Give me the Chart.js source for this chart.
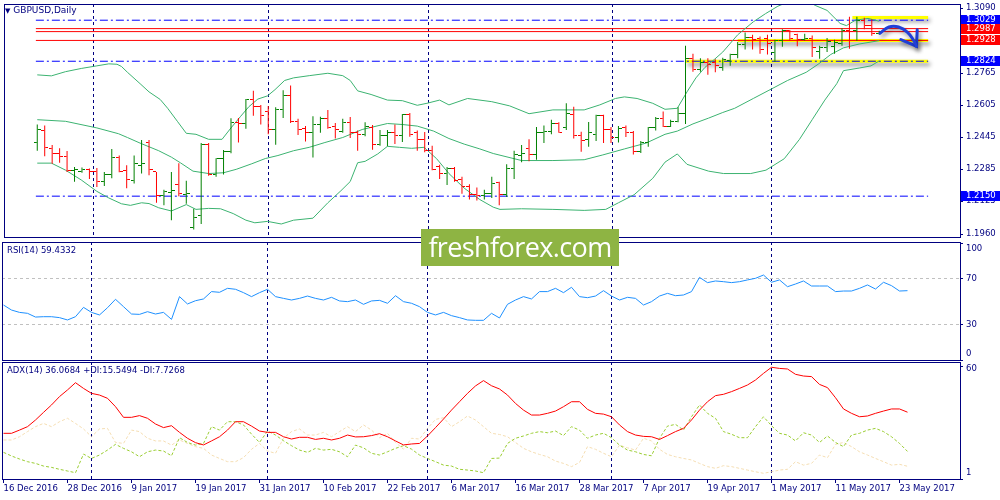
<!DOCTYPE html>
<html>
<head>
<meta charset="utf-8">
<script src="https://cdn.jsdelivr.net/npm/chart.js@4.4.1/dist/chart.umd.min.js"></script>
<style>
  html, body { margin: 0; padding: 0; background: #fff; }
  #wrap { position: relative; width: 1000px; height: 500px; overflow: hidden; }
  .pane { position: absolute; left: 0; width: 1000px; }
  .cap { position: absolute; font-family: "DejaVu Sans", sans-serif; font-size: 8.5px; line-height: 11px; color: #000080; white-space: nowrap; }
  #logo { position: absolute; left: 421px; top: 229px; width: 198px; height: 37px; background: #8eb443; color: #fff;
          font: 27px "Open Sans", sans-serif; letter-spacing: -0.6px; line-height: 36px; text-align: center; }
</style>
</head>
<body>
<div id="wrap">
  <div class="pane" style="top:0;height:241px"><canvas id="cMain"></canvas></div>
  <div class="pane" style="top:241px;height:120px"><canvas id="cRsi"></canvas></div>
  <div class="pane" style="top:361px;height:139px"><canvas id="cAdx"></canvas></div>
  <div class="cap" style="left:5px;top:5px;font-size:9px"><span style="font-size:7px">&#9660;</span> GBPUSD,Daily</div>
  <div class="cap" style="left:7px;top:245px">RSI(14) 59.4332</div>
  <div class="cap" style="left:7px;top:365px">ADX(14) 36.0684 +DI:15.5494 -DI:7.7268</div>
  <div id="logo">freshforex.com</div>
</div>
<script>
// daily bars, one per weekday from 16 Dec 2016
const opens = [1.2418,1.2480,1.2390,1.2364,1.2350,1.2276,1.2271,1.2283,1.2271,1.2222,1.2260,1.2345,1.2276,1.2229,1.2304,1.2418,1.2271,1.2154,1.2170,1.2209,
  1.2157,1.1994,1.2051,1.2410,1.2260,1.2340,1.2372,1.2516,1.2511,1.2635,1.2597,1.2573,1.2483,1.2581,1.2654,1.2524,1.2487,1.2467,1.2508,1.2540,
  1.2500,1.2472,1.2519,1.2470,1.2459,1.2491,1.2408,1.2451,1.2467,1.2451,1.2557,1.2467,1.2434,1.2377,1.2296,1.2263,1.2288,1.2231,1.2198,1.2157,
  1.2154,1.2161,1.2219,1.2157,1.2288,1.2353,1.2389,1.2356,1.2470,1.2475,1.2513,1.2491,1.2557,1.2451,1.2434,1.2459,1.2552,1.2483,1.2443,1.2491,
  1.2470,1.2372,1.2418,1.2491,1.2537,1.2500,1.2524,1.2565,1.2837,1.2785,1.2817,1.2817,1.2793,1.2826,1.2858,1.2910,1.2943,1.2936,1.2940,1.2866,
  1.2927,1.2976,1.2956,1.2932,1.2940,1.2874,1.2891,1.2899,1.2915,1.2980,1.2980,1.3029,1.3005,1.2961];
const highs = [1.2508,1.2503,1.2405,1.2389,1.2376,1.2296,1.2293,1.2288,1.2291,1.2271,1.2386,1.2353,1.2304,1.2353,1.2430,1.2430,1.2271,1.2182,1.2271,1.2315,
  1.2227,1.2087,1.2415,1.2415,1.2340,1.2381,1.2539,1.2540,1.2635,1.2676,1.2606,1.2601,1.2594,1.2679,1.2703,1.2537,1.2500,1.2549,1.2547,1.2581,
  1.2516,1.2537,1.2545,1.2478,1.2519,1.2506,1.2480,1.2480,1.2508,1.2560,1.2565,1.2478,1.2470,1.2402,1.2307,1.2296,1.2296,1.2247,1.2209,1.2193,
  1.2182,1.2247,1.2222,1.2309,1.2377,1.2405,1.2434,1.2495,1.2503,1.2532,1.2519,1.2614,1.2597,1.2472,1.2521,1.2557,1.2557,1.2495,1.2500,1.2503,
  1.2475,1.2426,1.2495,1.2545,1.2573,1.2532,1.2594,1.2902,1.2861,1.2839,1.2839,1.2834,1.2842,1.2861,1.2920,1.2967,1.2956,1.2948,1.2956,1.2932,
  1.2984,1.2980,1.2961,1.2961,1.2953,1.2902,1.2940,1.2932,1.2989,1.3046,1.3046,1.3041,1.3034,1.2976];
const lows = [1.2377,1.2350,1.2312,1.2317,1.2271,1.2222,1.2267,1.2236,1.2196,1.2201,1.2239,1.2270,1.2190,1.2213,1.2263,1.2255,1.2117,1.2105,1.2030,1.2149,
  1.2112,1.1983,1.2011,1.2252,1.2247,1.2258,1.2365,1.2418,1.2487,1.2552,1.2508,1.2459,1.2407,1.2540,1.2516,1.2456,1.2423,1.2343,1.2467,1.2487,
  1.2438,1.2467,1.2441,1.2377,1.2449,1.2382,1.2402,1.2399,1.2410,1.2421,1.2447,1.2377,1.2369,1.2280,1.2236,1.2206,1.2222,1.2162,1.2133,1.2128,
  1.2133,1.2141,1.2105,1.2146,1.2236,1.2320,1.2325,1.2332,1.2415,1.2459,1.2467,1.2480,1.2438,1.2372,1.2397,1.2426,1.2415,1.2415,1.2418,1.2446,
  1.2358,1.2366,1.2397,1.2478,1.2495,1.2495,1.2519,1.2511,1.2772,1.2772,1.2757,1.2769,1.2777,1.2801,1.2839,1.2883,1.2883,1.2861,1.2858,1.2821,
  1.2896,1.2927,1.2899,1.2928,1.2845,1.2837,1.2870,1.2861,1.2902,1.2886,1.2927,1.2984,1.2951,1.2956];
const closes = [1.2483,1.2394,1.2364,1.2350,1.2276,1.2284,1.2284,1.2275,1.2222,1.2260,1.2345,1.2271,1.2231,1.2315,1.2315,1.2283,1.2154,1.2174,1.2177,1.2161,
  1.2165,1.2043,1.2410,1.2260,1.2340,1.2372,1.2516,1.2511,1.2635,1.2597,1.2553,1.2483,1.2581,1.2654,1.2524,1.2483,1.2467,1.2508,1.2540,1.2495,
  1.2483,1.2519,1.2470,1.2459,1.2496,1.2410,1.2451,1.2467,1.2451,1.2557,1.2459,1.2434,1.2377,1.2283,1.2263,1.2288,1.2226,1.2198,1.2157,1.2154,
  1.2161,1.2214,1.2157,1.2288,1.2356,1.2361,1.2356,1.2470,1.2475,1.2513,1.2470,1.2565,1.2451,1.2426,1.2467,1.2552,1.2483,1.2443,1.2487,1.2470,
  1.2372,1.2418,1.2491,1.2537,1.2500,1.2524,1.2565,1.2837,1.2785,1.2817,1.2809,1.2801,1.2834,1.2858,1.2910,1.2943,1.2932,1.2883,1.2915,1.2927,
  1.2976,1.2936,1.2932,1.2940,1.2891,1.2891,1.2923,1.2920,1.2976,1.2972,1.3029,1.3002,1.2964,1.2972];

// bollinger bands: [bar index, price]
const bbUpper = [[0,1.2756],[1.9,1.2751],[3.8,1.2772],[5.9,1.2788],[8,1.2801],[9.6,1.2811],[10.7,1.2809],[11.3,1.2798],[12.1,1.2769],[13.8,1.2712],
  [15,1.2671],[16.5,1.2633],[17.5,1.2589],[18.8,1.2524],[20,1.2464],[21.3,1.2459],[23,1.2434],[24.8,1.2434],[26,1.2491],[27.3,1.2549],[28.4,1.2597],
  [29.6,1.2635],[30.9,1.2651],[31.9,1.2682],[33.2,1.2728],[34.4,1.2741],[36.5,1.2752],[39,1.2764],[41,1.2752],[42,1.2728],[43,1.2676],[44.8,1.2658],
  [47,1.2630],[49,1.2627],[51,1.2604],[52.3,1.2614],[54,1.2630],[55.25,1.2606],[57.75,1.2638],[61,1.2622],[63.4,1.2601],[66,1.2562],[69.2,1.2581],
  [73.4,1.2581],[75.5,1.2606],[77.6,1.2638],[78.8,1.2646],[80.5,1.2638],[82.6,1.2614],[84.25,1.2584],[85.9,1.2589],[87.2,1.2671],[88.4,1.2741],
  [89.6,1.2793],[90.9,1.2834],[92,1.2870],[94,1.2956],[96.1,1.3021],[97.75,1.3062],[99.4,1.3099],[101.5,1.3132],[103,1.3135],[104.4,1.3103],
  [106,1.3078],[107.75,1.3013],[108.6,1.3002],[109.8,1.3029],[111.5,1.3038],[113,1.3024]];
const bbMiddle = [[0,1.2532],[3.8,1.2524],[8,1.2491],[10.9,1.2462],[12.1,1.2443],[13.8,1.2415],[16.3,1.2377],[18,1.2345],[19.2,1.2317],[20.9,1.2275],
  [23,1.2263],[25,1.2267],[26.7,1.2284],[28.8,1.2312],[30.6,1.2338],[32.3,1.2353],[34.4,1.2377],[36.5,1.2394],[38.6,1.2418],[41,1.2443],[43.6,1.2483],
  [47,1.2513],[49,1.2508],[51,1.2500],[53.2,1.2475],[55.25,1.2438],[57.3,1.2410],[59.4,1.2386],[61.2,1.2363],[65,1.2328],[69.2,1.2328],[73.4,1.2332],
  [75.9,1.2356],[78.8,1.2386],[81.7,1.2415],[84.25,1.2459],[85.9,1.2475],[88,1.2511],[90.1,1.2540],[92,1.2568],[93.6,1.2589],[96.1,1.2638],
  [98.2,1.2679],[100.7,1.2728],[103.2,1.2769],[104.8,1.2809],[106.5,1.2858],[108.2,1.2891],[110.3,1.2910],[113,1.2927]];
const bbLower = [[0,1.2315],[1.9,1.2315],[3.8,1.2280],[5.9,1.2231],[8,1.2174],[9.6,1.2141],[11.3,1.2112],[12.5,1.2104],[14,1.2117],[15,1.2113],
  [16.3,1.2092],[18,1.2076],[20,1.2108],[21.3,1.2084],[23,1.2089],[24.6,1.2087],[26.3,1.2063],[28,1.2030],[29.2,1.2017],[30.9,1.2024],[32.75,1.2011],
  [34.4,1.2030],[37,1.2040],[39,1.2117],[40.75,1.2177],[42,1.2223],[43,1.2317],[44,1.2324],[45.7,1.2361],[47,1.2399],[48.6,1.2394],[50.25,1.2389],
  [51.9,1.2394],[53.6,1.2337],[55.25,1.2263],[57.3,1.2190],[59.4,1.2133],[61.2,1.2095],[62.1,1.2084],[65,1.2087],[69.2,1.2084],[73.4,1.2079],
  [76.3,1.2084],[78,1.2117],[80.1,1.2157],[82.6,1.2239],[84.25,1.2320],[85.9,1.2361],[87.2,1.2309],[90.1,1.2275],[92.1,1.2263],[95.75,1.2263],
  [97.8,1.2280],[100.25,1.2337],[102.3,1.2434],[104,1.2532],[105.7,1.2630],[107.3,1.2712],[108.2,1.2777],[110.3,1.2790],[111.9,1.2801],[113,1.2826]];

const rsi = [47.1,42.8,40.8,40.0,36.8,37.1,37.1,36.3,34.3,37.1,45.1,40.8,38.6,44.8,52.0,45.7,39.4,39.1,41.4,39.4,
  40.8,34.8,54.3,48.0,50.8,52.3,58.6,58.0,61.4,60.6,57.7,54.3,57.7,60.6,54.3,52.8,51.4,52.8,54.8,52.8,
  51.4,53.7,50.6,50.0,51.4,47.7,50.6,51.1,48.6,55.1,50.0,48.6,45.7,40.8,38.6,40.8,38.0,36.3,34.3,34.0,
  34.0,40.0,36.0,47.7,51.4,54.3,52.3,58.6,58.6,61.4,57.7,62.3,54.3,53.4,54.8,59.4,54.8,51.4,53.7,52.8,
  47.1,50.0,54.8,57.1,55.1,55.7,58.6,70.8,66.3,67.7,67.1,66.3,67.1,68.6,70.0,72.8,66.6,68.6,62.8,65.1,
  67.7,63.4,63.4,63.4,58.6,59.1,59.1,61.4,64.3,60.8,66.6,63.7,59.1,59.4];
const adx = [25.0,25.0,26.7,28.5,32.0,36.0,39.9,44.3,47.8,51.6,48.6,46.0,45.1,43.4,39.0,33.4,33.4,34.3,32.9,29.9,
  28.0,29.0,25.5,22.4,20.1,18.9,21.0,23.2,26.7,31.1,31.1,28.8,26.2,25.5,25.5,23.2,22.0,22.9,22.9,21.8,
  22.4,21.5,22.4,24.1,23.1,23.2,23.8,24.8,23.2,21.0,18.9,19.4,19.7,23.6,28.0,32.5,37.2,41.6,46.0,49.9,
  52.7,50.0,48.3,45.1,40.7,37.2,34.6,34.6,35.5,36.7,39.0,41.6,41.6,37.6,35.5,35.1,33.7,29.4,25.9,24.1,
  23.4,23.2,21.8,23.8,25.9,27.6,32.0,37.2,41.6,44.8,45.5,46.9,48.6,50.4,53.0,56.5,59.7,59.1,58.8,56.0,
  55.1,54.8,50.7,49.0,43.7,37.8,35.5,33.7,34.1,35.5,36.7,37.8,37.8,36.1];
const plusDI = [15.0,13.1,11.5,10.1,9.2,7.8,7.1,6.1,5.2,4.3,14.1,11.8,13.6,16.2,19.2,17.1,15.3,12.7,15.3,16.2,
  15.7,13.2,22.7,20.2,18.8,19.7,28.5,26.7,31.1,31.1,29.4,24.6,20.2,26.2,24.1,21.1,18.5,16.2,15.0,17.1,
  16.2,16.6,15.3,12.7,18.8,17.4,14.5,13.6,15.3,17.1,18.5,16.7,13.6,11.8,10.1,8.3,7.8,6.1,5.7,5.2,
  4.3,11.8,12.0,19.7,22.4,23.6,25.0,25.9,25.3,26.2,23.8,28.5,26.7,22.4,24.1,25.0,22.7,18.8,16.2,15.3,
  13.9,13.2,22.4,28.8,29.7,26.7,33.7,39.9,35.5,32.9,25.9,24.5,22.7,22.7,28.5,33.7,29.0,25.0,24.1,21.0,
  25.3,24.1,20.2,23.6,20.2,18.0,24.1,25.0,26.7,27.6,25.9,23.2,19.7,15.5];
const minusDI = [21.5,21.5,23.2,25.9,28.5,30.2,28.5,31.1,32.9,30.2,27.3,23.2,27.3,27.6,20.2,19.7,26.7,25.9,22.4,21.0,
  21.0,18.8,21.5,19.7,18.0,17.1,13.6,11.8,10.1,10.1,12.2,16.6,19.7,15.7,14.5,22.4,25.9,27.3,24.1,24.1,
  25.5,23.2,25.9,28.5,25.9,29.4,26.7,22.7,25.0,20.2,16.7,22.4,22.0,27.6,32.3,33.2,28.5,31.1,34.1,32.0,
  28.5,25.0,24.4,23.2,20.2,17.1,15.3,13.9,12.7,10.4,9.2,7.5,9.7,18.0,16.6,14.5,12.7,18.8,17.4,16.2,
  22.4,21.0,16.6,13.9,12.7,11.8,11.0,9.2,7.5,6.6,8.0,7.5,6.6,5.7,4.8,4.0,4.8,5.7,6.1,10.1,
  8.3,9.2,13.6,12.2,19.2,20.2,18.0,15.3,13.6,11.8,10.1,8.3,8.7,7.7];

const dateTicks = ['16 Dec 2016','28 Dec 2016','9 Jan 2017','19 Jan 2017','31 Jan 2017','10 Feb 2017','22 Feb 2017','6 Mar 2017',
  '16 Mar 2017','28 Mar 2017','7 Apr 2017','19 Apr 2017','1 May 2017','11 May 2017','23 May 2017'];
const dateTickStep = 8;
const monthStarts = [11, 33, 53, 76, 96];
const priceTicks = [1.3090, 1.2765, 1.2605, 1.2445, 1.2285, 1.2125, 1.1960];
const rsiTicks = [100, 70, 30, 0];
const rsiLevels = [30, 70];
const adxTicks = [60, 1];

// drawn objects on the price pane
const blueLevels = [1.3029, 1.2824, 1.2150];
const redLevels = [1.2987, 1.2928];
const yellowLevels = [1.3042, 1.2928, 1.2824];
const yellowFrom = [109.4, 94, 87];
const arrowPath = [[113.1,1.2964],[114.3,1.2995],[115.6,1.2995],[116.8,1.2968],[117.6,1.2929],[118.0,1.2899]];
const arrowHead = [[118.1,1.2981],[118.0,1.2899],[115.9,1.2932]];

const NAVY = '#000080', GREEN = '#008000', RED = '#ff0000', BLUE = '#0000ff', BB = '#3cb371';
const FONT = {family: 'DejaVu Sans', size: 8.5};
const X_MIN = -0.1875, X_MAX = 119.5625;

const pts = arr => arr.map((v, i) => ({x: i, y: v}));
const pairs = arr => arr.map(p => ({x: p[0], y: p[1]}));
const isUp = i => closes[i] >= opens[i];

function tickImage(color, left) {
  const c = document.createElement('canvas');
  c.width = 7; c.height = 1;
  const g = c.getContext('2d');
  g.fillStyle = color;
  g.fillRect(left ? 0 : 4, 0, 3, 1);
  return c;
}
const IMG = {
  openUp: tickImage(GREEN, true), openDn: tickImage(RED, true),
  closeUp: tickImage(GREEN, false), closeDn: tickImage(RED, false)
};

const framePlugin = {
  id: 'frame',
  afterDraw(chart) {
    const a = chart.chartArea, ctx = chart.ctx;
    ctx.save();
    ctx.strokeStyle = NAVY;
    ctx.lineWidth = 1;
    ctx.strokeRect(a.left + 0.5, a.top + 0.5, a.right - a.left, a.bottom - a.top);
    ctx.restore();
  }
};

const shadowPlugin = {
  id: 'shadow',
  beforeDatasetDraw(chart, args) {
    if (!chart.data.datasets[args.index].shadow) return;
    const ctx = chart.ctx;
    ctx.save();
    ctx.shadowColor = 'rgba(0,0,0,0.45)';
    ctx.shadowBlur = 4;
    ctx.shadowOffsetX = 2;
    ctx.shadowOffsetY = 3;
  },
  afterDatasetDraw(chart, args) {
    if (chart.data.datasets[args.index].shadow) chart.ctx.restore();
  }
};

const tagPlugin = {
  id: 'tags',
  afterDraw(chart) {
    const s = chart.scales.y, ctx = chart.ctx;
    const tags = blueLevels.map(v => [v, BLUE]).concat(redLevels.map(v => [v, RED]));
    ctx.save();
    ctx.font = '8.5px "DejaVu Sans"';
    ctx.textBaseline = 'middle';
    tags.forEach(([v, col]) => {
      const y = Math.round(s.getPixelForValue(v));
      ctx.fillStyle = col;
      ctx.fillRect(s.left + 1, y - 5, 39, 10);
      ctx.fillStyle = '#fff';
      ctx.fillText(v.toFixed(4), s.left + 6, y);
    });
    ctx.restore();
  }
};

// indicator panes: min/max labels are kept inside the pane like the terminal does
function sideLabels(values) {
  return {
    id: 'sideLabels',
    afterDraw(chart) {
      const s = chart.scales.y, a = chart.chartArea, ctx = chart.ctx;
      ctx.save();
      ctx.font = '8.5px "DejaVu Sans"';
      ctx.fillStyle = NAVY;
      ctx.textBaseline = 'middle';
      values.forEach(v => {
        const y = Math.min(Math.max(s.getPixelForValue(v), a.top + 6.5), a.bottom - 6.5);
        ctx.fillText(String(v), s.left + 6, y);
      });
      ctx.restore();
    }
  };
}

function xScales(showLabels) {
  return {
    x: {
      type: 'linear', min: X_MIN, max: X_MAX, display: showLabels,
      afterBuildTicks: s => { s.ticks = dateTicks.map((t, k) => ({value: k * dateTickStep})); },
      afterFit: s => { if (showLabels) s.height = 21; s.paddingLeft = 0; s.paddingRight = 0; },
      ticks: { autoSkip: false, maxRotation: 0, align: 'start', color: NAVY, font: FONT, padding: 1,
               callback: (v, k) => dateTicks[k] },
      grid: { drawOnChartArea: false, drawTicks: true, tickLength: 4, tickColor: NAVY },
      border: { display: false }
    },
    xMonths: {
      type: 'linear', position: 'top', min: X_MIN, max: X_MAX,
      afterBuildTicks: s => { s.ticks = monthStarts.map(v => ({value: v})); },
      afterFit: s => { s.height = 0; s.paddingLeft = 0; s.paddingRight = 0; },
      ticks: { display: false },
      grid: { color: NAVY, drawTicks: false },
      border: { display: false, dash: [3, 3] }
    }
  };
}

function yScale(min, max, extra) {
  return Object.assign({
    position: 'right', min: min, max: max,
    afterFit: s => { s.width = 40; s.paddingTop = 0; s.paddingBottom = 0; },
    grid: { drawOnChartArea: false, tickLength: 3, tickColor: NAVY },
    border: { display: false }
  }, extra);
}

const common = {
  responsive: true, maintainAspectRatio: false, animation: false, events: [],
  plugins: { legend: { display: false }, tooltip: { enabled: false } }
};

const line = (data, color, extra) => Object.assign({
  type: 'line', data: data, borderColor: color, borderWidth: 1, pointRadius: 0, tension: 0, fill: false
}, extra);

const hLine = (v, from) => [{x: from, y: v}, {x: X_MAX, y: v}];

// price pane
const mainSets = [
  line(pairs(arrowPath), '#1f3fd8', { borderWidth: 3, tension: 0.4, borderCapStyle: 'round', shadow: true, order: 1 }),
  line(pairs(arrowHead), '#1f3fd8', { borderWidth: 3, borderCapStyle: 'round', shadow: true, order: 1 }),
  { type: 'line', showLine: false, data: pts(opens), pointRadius: 3, pointHoverRadius: 3, order: 10,
    pointStyle: c => isUp(c.dataIndex) ? IMG.openUp : IMG.openDn },
  { type: 'line', showLine: false, data: pts(closes), pointRadius: 3, pointHoverRadius: 3, order: 10,
    pointStyle: c => isUp(c.dataIndex) ? IMG.closeUp : IMG.closeDn },
  { type: 'bar', data: lows.map((l, i) => ({x: i, y: [l, highs[i]]})), barThickness: 1, inflateAmount: 0,
    borderWidth: 0, order: 20, backgroundColor: c => isUp(c.dataIndex) ? GREEN : RED },
  line(pairs(bbUpper), BB, { order: 30 }),
  line(pairs(bbMiddle), BB, { order: 30 }),
  line(pairs(bbLower), BB, { order: 30 }),
  line(hLine(closes[closes.length - 1], X_MIN), RED, { order: 40 })
];
redLevels.forEach(v => mainSets.push(line(hLine(v, X_MIN), RED, { order: 40 })));
blueLevels.forEach(v => mainSets.push(line(hLine(v, X_MIN), BLUE, { borderDash: [8, 3, 2, 3], order: 44 })));
yellowLevels.forEach((v, k) => mainSets.push(line(hLine(v, yellowFrom[k]), '#ffff00', { borderWidth: 3, shadow: true, order: 45 })));

new Chart(document.getElementById('cMain'), {
  type: 'line',
  data: { datasets: mainSets },
  options: Object.assign({}, common, {
    layout: { padding: { left: 2, top: 2, bottom: 1, right: 0 } },
    scales: Object.assign(xScales(false), {
      y: yScale(1.1946, 1.3110, {
        afterBuildTicks: s => { s.ticks = priceTicks.map(v => ({value: v})); },
        ticks: { autoSkip: false, color: NAVY, font: FONT, padding: 3, callback: v => v.toFixed(4) }
      })
    })
  }),
  plugins: [shadowPlugin, framePlugin, tagPlugin]
});

// RSI pane
new Chart(document.getElementById('cRsi'), {
  type: 'line',
  data: { datasets: [line(pts(rsi), '#1e90ff')] },
  options: Object.assign({}, common, {
    layout: { padding: { left: 2, top: 1, bottom: 1, right: 0 } },
    scales: Object.assign(xScales(false), {
      y: yScale(0, 101.1, {
        afterBuildTicks: s => { s.ticks = rsiTicks.map(v => ({value: v})); },
        ticks: { display: false },
        grid: { drawOnChartArea: true, tickLength: 3, tickColor: NAVY,
                color: c => (c.tick && rsiLevels.includes(c.tick.value)) ? '#c0c0c0' : 'rgba(0,0,0,0)' },
        border: { display: false, dash: [3, 3] }
      })
    })
  }),
  plugins: [framePlugin, sideLabels(rsiTicks)]
});

// ADX pane
new Chart(document.getElementById('cAdx'), {
  type: 'line',
  data: { datasets: [
    line(pts(adx), '#ff0000', { order: 1 }),
    line(pts(plusDI), '#9acd32', { borderDash: [3, 2], order: 2 }),
    line(pts(minusDI), '#f5deb3', { borderDash: [3, 2], order: 3 })
  ] },
  options: Object.assign({}, common, {
    layout: { padding: { left: 2, top: 1, bottom: 0, right: 0 } },
    scales: Object.assign(xScales(true), {
      y: yScale(1, 62.47, {
        afterBuildTicks: s => { s.ticks = adxTicks.map(v => ({value: v})); },
        ticks: { display: false }
      })
    })
  }),
  plugins: [framePlugin, sideLabels(adxTicks)]
});
</script>
</body>
</html>
